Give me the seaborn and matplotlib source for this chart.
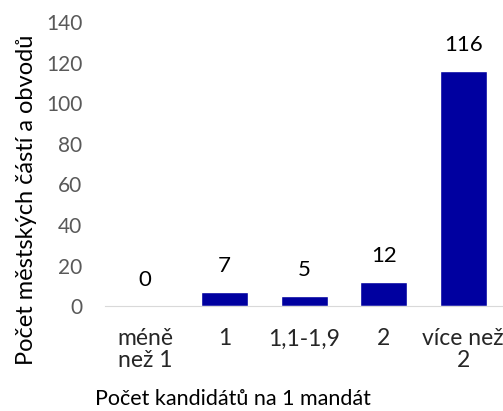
import matplotlib
matplotlib.use('Agg')
import matplotlib.pyplot as plt
import seaborn as sns
import pandas as pd

sns.set_style('white')
plt.rcParams['font.family'] = ['Lato', 'DejaVu Sans']

categories = ['méně\nnež 1', '1', '1,1-1,9', '2', 'více než\n2']
counts = [0, 7, 5, 12, 116]

df = pd.DataFrame({'kat': categories, 'pocet': counts})

fig = plt.figure(figsize=(5.03, 4.11), dpi=100)
ax = fig.add_axes([0.209, 0.255, 0.791, 0.691])
sns.barplot(data=df, x='kat', y='pocet', color='#0000a0', width=0.59, ax=ax,
            saturation=1)

# popisky hodnot nad sloupci
for i, v in enumerate(counts):
    ax.annotate(str(v), (i, v), xytext=(0, 14.5), textcoords='offset points',
                ha='center', va='baseline', fontsize=16, color='black')

ax.set_ylim(0, 140)
ax.set_yticks(range(0, 141, 20))
ax.set_xlim(-0.5, 4.5)
ax.tick_params(axis='y', length=0, labelsize=15, colors='#595959', pad=16.5)
ax.tick_params(axis='x', length=0, labelsize=16.5, colors='#262626', pad=16)
for s in ['top', 'right', 'left']:
    ax.spines[s].set_visible(False)
ax.spines['bottom'].set_color('#d9d9d9')

ax.set_xlabel('Počet kandidátů na 1 mandát', fontsize=15.5, color='black')
ax.xaxis.set_label_coords(0.32, -0.348)
ax.xaxis.label.set_va('baseline')
ax.set_ylabel('Počet městských částí a obvodů', fontsize=17, color='black')
ax.yaxis.set_label_coords(-0.171, 0.373)
for t in ax.get_xticklabels():
    t.set_linespacing(1.05)

fig.savefig('out.png', dpi=100)
